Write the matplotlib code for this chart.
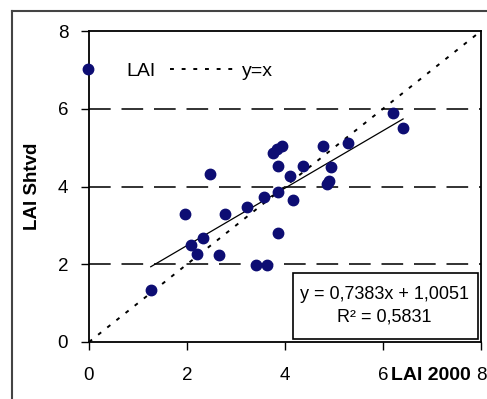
import numpy as np
import matplotlib.pyplot as plt
from matplotlib.lines import Line2D
from matplotlib.patches import Rectangle

plt.rcParams['font.family'] = ['Liberation Sans', 'DejaVu Sans']

# LAI 2000 (x) vs LAI Shtvd (y)
lai_2000 = [1.26, 1.95, 2.08, 2.21, 2.32, 2.46, 2.66, 2.77, 3.23, 3.41,
            3.58, 3.64, 3.76, 3.84, 3.94, 3.85, 3.85, 3.86, 4.11, 4.16,
            4.37, 4.78, 4.86, 4.89, 4.93, 5.28, 6.20, 6.41]
lai_shtvd = [1.33, 3.30, 2.49, 2.27, 2.68, 4.32, 2.23, 3.30, 3.47, 1.97,
             3.74, 1.97, 4.86, 4.97, 5.03, 4.54, 3.87, 2.80, 4.26, 3.66,
             4.54, 5.03, 4.07, 4.13, 4.50, 5.12, 5.90, 5.51]
slope = 0.7383
intercept = 1.0051
r2 = 0.5831
ticks = [0, 2, 4, 6, 8]
grid_y = [2, 4, 6]

def plot_lai():
    fig = plt.figure(figsize=(4.87, 3.99), dpi=100)
    ax = fig.add_axes([89/487, 1 - 342/399, 392/487, 311/399])

    # outer chart border (cut off at right and bottom)
    fig.add_artist(Line2D([12/487, 12/487], [0, 1 - 11/399], color='#444444', lw=1.5))
    fig.add_artist(Line2D([12/487, 1], [1 - 11/399, 1 - 11/399], color='#444444', lw=1.5))

    for g in grid_y:
        ax.axhline(g, color='#222222', lw=1.3, ls=(0, (12, 6)), zorder=1)

    ax.plot([0, 8], [0, 8], color='black', lw=1.4, ls=(0, (2, 4)), label='y=x', zorder=2)
    xs = np.array([min(lai_2000), max(lai_2000)])
    ax.plot(xs, slope * xs + intercept, color='black', lw=0.9, zorder=2)
    ax.plot(lai_2000, lai_shtvd, 'o', color='#0d0d73', ms=7.5, ls='none',
            label='LAI', zorder=3)

    ax.set_xlim(0, 8)
    ax.set_ylim(0, 8)
    ax.set_xticks(ticks)
    ax.set_yticks(ticks)
    ax.tick_params(direction='out', length=6, width=1, labelsize=13.5)
    ax.tick_params(axis='x', pad=12)
    ax.tick_params(axis='y', pad=9)
    for s in ax.spines.values():
        s.set_linewidth(1.3)

    ax.set_xlabel('LAI 2000', fontweight='bold', fontsize=14, ha='left', va='center')
    ax.xaxis.set_label_coords(0.77, -0.107)
    ax.set_ylabel('LAI Shtvd', fontweight='bold', fontsize=13.5, va='center')
    ax.yaxis.set_label_coords(-0.145, 0.5)

    h, l = ax.get_legend_handles_labels()
    ax.legend([h[1], h[0]], [l[1], l[0]], ncol=2, frameon=False, fontsize=14,
              loc='center left', bbox_to_anchor=(-0.087, 0.871), borderpad=0,
              handlelength=3.4, handletextpad=0.3, columnspacing=0.7, borderaxespad=0)

    ax.add_patch(Rectangle((4.16, 0.08), 3.78, 1.69, fc='white', ec='black',
                           lw=1.2, zorder=4))
    eq = 'y = %s' % ('%.4fx + %.4f' % (slope, intercept)).replace('.', ',')
    ax.text(6.03, 1.23, eq, ha='center', va='center', fontsize=13, zorder=5)
    ax.text(6.03, 0.64, ('R\u00b2 = %.4f' % r2).replace('.', ','), ha='center',
            va='center', fontsize=13, zorder=5)

    fig.savefig('out.png', dpi=100)

if __name__ == "__main__":
    plot_lai()
